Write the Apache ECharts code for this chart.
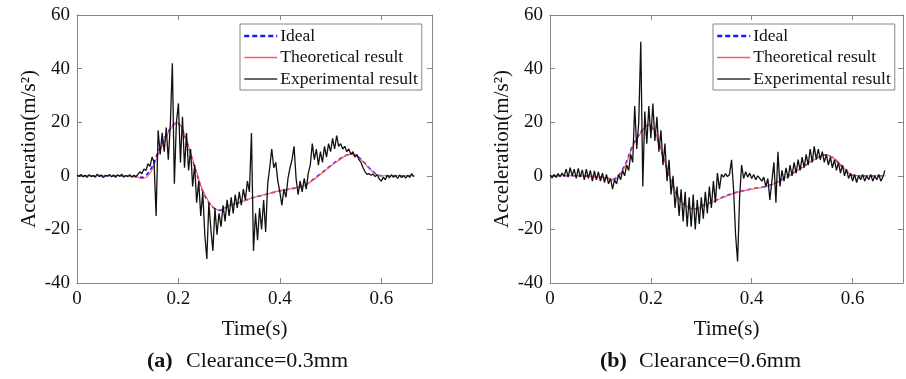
<!DOCTYPE html>
<html>
<head>
<meta charset="utf-8">
<script src="https://cdn.jsdelivr.net/npm/echarts@6/dist/echarts.min.js"></script>
<style>
html,body{margin:0;padding:0;background:#fff;}
#chart{width:906px;height:379px;}
</style>
</head>
<body>
<div id="chart"></div>
<script>
// ---------- data ----------
const seriesNames = ['Ideal', 'Theoretical result', 'Experimental result'];
const xTickLabels = ['0', '0.2', '0.4', '0.6'];
const yTickLabels = ['-40', '-20', '0', '20', '40', '60'];
const captionTagA = '(a)';
const captionTextA = 'Clearance=0.3mm';
const captionTagB = '(b)';
const captionTextB = 'Clearance=0.6mm';

// sampling interval of the experimental record (s)
const expStep = 0.004;

// panel (a): clearance 0.3 mm
const theoTimeA = [0,0.1,0.12,0.125,0.13,0.14,0.15,0.16,0.17,0.18,0.19,0.197,0.205,0.215,0.225,0.235,0.245,0.255,0.265,0.275,0.28,0.29,0.30,0.32,0.35,0.38,0.40,0.43,0.45,0.47,0.49,0.51,0.53,0.54,0.55,0.56,0.57,0.58,0.59,0.60,0.62,0.665];
const theoValA  = [0,0,-0.5,-1,-1,0,3,8,12,16,19,20,18.5,14,8,2,-4,-8,-11,-12.5,-12.8,-12,-11,-10,-8,-6.5,-5.5,-4.5,-3.5,-1,2,5,7.5,8,7.5,6,4,2,0.5,0,0,0];
const idealTimeA = [0,0.1,0.12,0.13,0.14,0.15,0.16,0.17,0.18,0.19,0.197,0.205,0.215,0.225,0.235,0.245,0.255,0.265,0.275,0.283,0.29,0.30,0.32,0.35,0.38,0.40,0.43,0.45,0.47,0.49,0.51,0.53,0.54,0.55,0.56,0.57,0.58,0.59,0.60,0.62,0.665];
const idealValA  = [0,0,-0.3,-0.6,1,4,9,13,16.5,19,19.8,18.3,13.5,7.5,1.5,-4.5,-8.5,-11.2,-12.6,-12.9,-12.2,-11.2,-10,-8,-6.6,-5.6,-4.6,-3.4,-0.8,2.2,5.2,7.6,8.1,7.6,6.2,4.2,2.2,0.6,0,0,0];
const expValA = [
  0.3,-0.2,0.5,-0.4,0.2,-0.6,0.4,-0.3,0.1,-0.5,0.6,-0.2,0.3,-0.7,0.2,-0.1,0.5,-0.4,0.3,-0.6,
  0.4,-0.2,0.6,-0.5,0.1,-0.3,0.4,-0.6,0.2,-0.4,
  0.5,1.5,0.8,2.5,2,4.5,3.5,7,5,-15,
  17,8,16,9,18,6,19,42,-3,20,
  27,5,22,3,16,2,10,-4,4,-10,
  -2,-15,-6,-22,-31,-10,-20,-28,-12,-22,
  -14,-19,-11,-17,-9,-15,-8,-14,-7,-12,
  -6,-11,-5,-9,-2,-6,16,-28,-14,-24,
  -12,-20,-9,-21,-3,3,10,3,5,-2,
  -6,-11,-5,-8,-1,3,6,11,-1,-7,
  -2,-6,-1,-5,1,4,12,6,10,4,
  9,5,11,7,12,9,14,10,15,11,
  12,10,11,9,10,8,9,7,8,6,
  5,3,1.5,0.5,0.8,0.2,0.6,-0.3,0.4,-1.2,
  -2,-0.5,-1.5,0.3,-0.8,0.4,-0.6,0.2,-1,0.3,
  -0.7,0.1,-0.9,0.2,-0.6,0.8,-0.4
];

// panel (b): clearance 0.6 mm
const theoTimeB = [0,0.05,0.1,0.115,0.124,0.135,0.15,0.16,0.17,0.18,0.19,0.197,0.205,0.215,0.225,0.235,0.245,0.255,0.265,0.275,0.285,0.295,0.3,0.32,0.35,0.375,0.4,0.43,0.45,0.474,0.5,0.52,0.546,0.56,0.58,0.599,0.62,0.665];
const theoValB  = [0,0,-0.5,-1,-1.6,-0.5,4,9,13,16,18.5,19,17.5,13,7,1,-4,-8,-10.5,-11.8,-12.3,-12.1,-11.5,-10,-7.5,-6,-5,-4,-2.5,0,3,5.5,7.8,7,3.5,0.3,0,0];
const idealTimeB = [0,0.05,0.1,0.115,0.124,0.135,0.15,0.16,0.17,0.18,0.19,0.197,0.205,0.215,0.225,0.235,0.245,0.255,0.265,0.275,0.285,0.295,0.3,0.32,0.35,0.375,0.4,0.43,0.45,0.474,0.5,0.52,0.546,0.56,0.58,0.599,0.62,0.665];
const idealValB  = [0,0,-0.4,-0.9,-1.4,-0.2,4.5,9.5,13.5,16.3,18.6,19,17.3,12.6,6.6,0.6,-4.3,-8.3,-10.7,-11.9,-12.4,-12.1,-11.4,-9.9,-7.4,-5.9,-4.9,-3.9,-2.4,0.1,3.1,5.6,7.8,6.9,3.3,0.2,0,0];
const expValB = [
  0.2,-0.8,0.5,-0.6,0.8,-0.3,1,-0.2,
  2.5,-0.5,3,0,2.5,-1,2.8,-0.5,2.2,-1.5,2.5,-1,2,-2,1.8,-1.5,1.5,
  -2,1,-2.5,0.5,-3,-1,-5,-1.5,-3,0.5,
  -1.5,2,0,4,2,8,5,26,10,20,
  50,-4,24,12,26,14,27,13,22,9,
  17,4,12,-2,6,-7,0,-12,-4,-15,
  -5,-17,-6,-19,-8,-19,-7,-20,-9,-18,
  -8,-16,-6,-14,-4,-12,-2,-10,1,-5,
  0.5,-0.5,0.8,-0.3,0.5,6,-5,-22,-32,-8,
  4,-1,1.5,-0.5,1,-1,0.5,-1.5,0,-1,
  -2,-0.5,-4,-1,-9,-2,5,-10,9,-4,
  2,-2,3,-1,4,0,5,1,6,2,
  7,3,8,4,10,5,11,6,10,6,
  9,5,8,4,7,3,6,2,5,1,
  4,0,2.5,-1,1,-2,0.5,-2.5,0,-1.5,
  0.5,-2,0,-1.5,0.5,-2,0,-1.5,0.5,-2,
  -0.5,2
];

// ---------- helpers ----------
const pairs = (ts, vs) => ts.map((t, i) => [t, vs[i]]);
const expPairs = vs => vs.map((v, i) => [+(i * expStep).toFixed(4), v]);

const serif = 'Liberation Serif';
const frameColor = '#868686';
const textColor = '#111';

function axesFor(gridIndex) {
  const xs = [
    {
      type: 'value', gridIndex, min: 0, max: 0.7, interval: 0.2, position: 'bottom',
      axisLine: { onZero: false, lineStyle: { color: frameColor, width: 1 } },
      axisTick: { inside: true, length: 5, lineStyle: { color: frameColor } },
      splitLine: { show: false },
      axisLabel: {
        color: textColor, fontFamily: serif, fontSize: 19, margin: 7,
        formatter: v => { const s = String(+v.toFixed(1)); return xTickLabels.includes(s) ? s : ''; }
      },
      name: 'Time(s)', nameLocation: 'middle', nameGap: 36,
      nameTextStyle: { color: textColor, fontFamily: serif, fontSize: 21 }
    },
    {
      type: 'value', gridIndex, min: 0, max: 0.7, interval: 0.2, position: 'top',
      axisLine: { onZero: false, lineStyle: { color: frameColor, width: 1 } },
      axisTick: { inside: true, length: 5, lineStyle: { color: frameColor } },
      splitLine: { show: false }, axisLabel: { show: false }
    }
  ];
  const ys = [
    {
      type: 'value', gridIndex, min: -40, max: 60, interval: 20, position: 'left',
      axisLine: { show: true, onZero: false, lineStyle: { color: frameColor, width: 1 } },
      axisTick: { show: true, inside: true, length: 5, lineStyle: { color: frameColor } },
      splitLine: { show: false },
      axisLabel: {
        color: textColor, fontFamily: serif, fontSize: 19, margin: 7,
        formatter: v => { const s = String(v); return yTickLabels.includes(s) ? s : ''; }
      },
      name: 'Acceleration(m/s²)', nameLocation: 'middle', nameGap: 37, nameRotate: 90,
      nameTextStyle: { color: textColor, fontFamily: serif, fontSize: 21 }
    },
    {
      type: 'value', gridIndex, min: -40, max: 60, interval: 20, position: 'right',
      axisLine: { show: true, onZero: false, lineStyle: { color: frameColor, width: 1 } },
      axisTick: { show: true, inside: true, length: 5, lineStyle: { color: frameColor } },
      splitLine: { show: false }, axisLabel: { show: false }
    }
  ];
  return { xs, ys };
}

const a0 = axesFor(0), a1 = axesFor(1);

function panelSeries(xi, yi, idealT, idealV, theoT, theoV, expV) {
  return [
    {
      name: seriesNames[0], type: 'line', xAxisIndex: xi, yAxisIndex: yi,
      data: pairs(idealT, idealV), symbol: 'none', smooth: 0.3, z: 2,
      lineStyle: { color: '#1515ff', width: 1.6, type: [4, 3] }, itemStyle: { color: '#1515ff' }
    },
    {
      name: seriesNames[1], type: 'line', xAxisIndex: xi, yAxisIndex: yi,
      data: pairs(theoT, theoV), symbol: 'none', smooth: 0.3, z: 3,
      lineStyle: { color: '#ff5a5a', width: 1.1 }, itemStyle: { color: '#ff5a5a' }
    },
    {
      name: seriesNames[2], type: 'line', xAxisIndex: xi, yAxisIndex: yi,
      data: expPairs(expV), symbol: 'none', z: 4,
      lineStyle: { color: '#111', width: 1.3 }, itemStyle: { color: '#111' }
    }
  ];
}

function legendAt(left) {
  return {
    orient: 'vertical', left, top: 24,
    data: [
      { name: seriesNames[0], lineStyle: { width: 2.5, type: [5, 3] } },
      { name: seriesNames[1], lineStyle: { width: 1.3 } },
      { name: seriesNames[2], lineStyle: { width: 1.6, color: '#333' } }
    ],
    itemWidth: 33, itemHeight: 14, itemGap: 1.5,
    padding: [2, 4, 1, 3],
    itemStyle: { opacity: 0 },
    borderColor: frameColor, borderWidth: 1, backgroundColor: '#fff',
    textStyle: { fontFamily: serif, fontSize: 17.5, color: textColor, lineHeight: 20, padding: [0, 0, 0, -2] },
    selectedMode: false
  };
}

const chart = echarts.init(document.getElementById('chart'), null, { renderer: 'canvas' });
chart.setOption({
  animation: false,
  backgroundColor: '#fff',
  grid: [
    { left: 77, top: 15, width: 355, height: 268 },
    { left: 550, top: 15, width: 353, height: 268 }
  ],
  xAxis: [a0.xs[0], a0.xs[1], a1.xs[0], a1.xs[1]],
  yAxis: [a0.ys[0], a0.ys[1], a1.ys[0], a1.ys[1]],
  legend: [legendAt(240), legendAt(713)],
  series: [
    ...panelSeries(0, 0, idealTimeA, idealValA, theoTimeA, theoValA, expValA),
    ...panelSeries(2, 2, idealTimeB, idealValB, theoTimeB, theoValB, expValB)
  ],
  graphic: [
    { type: 'text', left: 147, top: 350, style: { text: captionTagA, font: 'bold 22px "Liberation Serif"', fill: '#111' } },
    { type: 'text', left: 186, top: 350, style: { text: captionTextA, font: '22px "Liberation Serif"', fill: '#111' } },
    { type: 'text', left: 600, top: 350, style: { text: captionTagB, font: 'bold 22px "Liberation Serif"', fill: '#111' } },
    { type: 'text', left: 639, top: 350, style: { text: captionTextB, font: '22px "Liberation Serif"', fill: '#111' } }
  ]
});
</script>
</body>
</html>
